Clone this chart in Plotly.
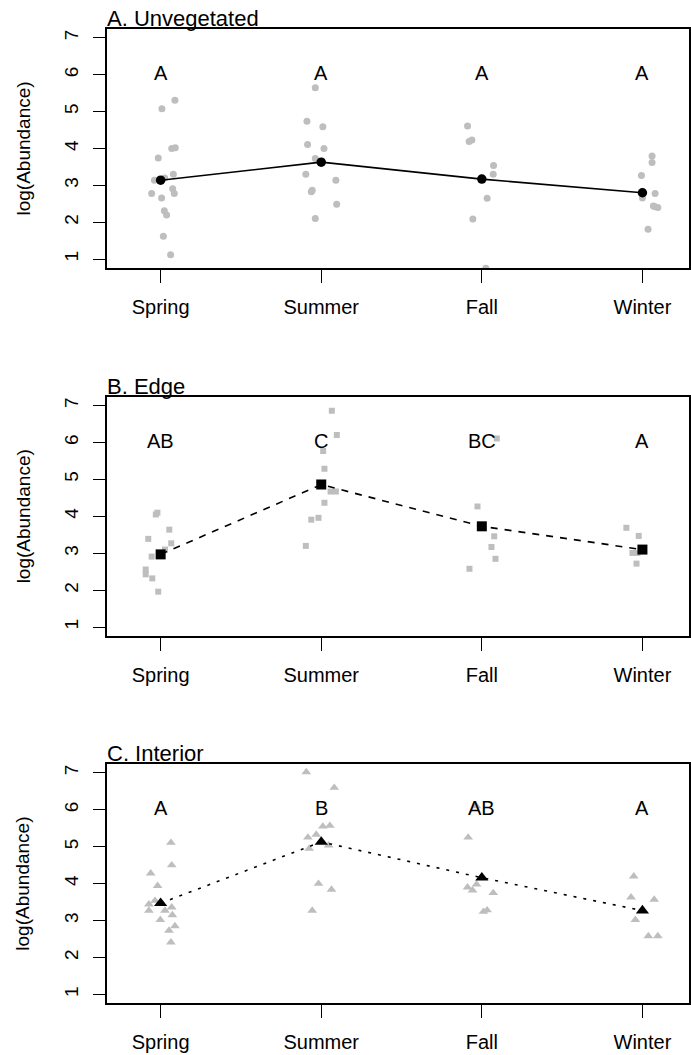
import plotly.graph_objects as go

# ---------------- data ----------------
seasons = ["Spring", "Summer", "Fall", "Winter"]
season_pos = [1, 2, 3, 4]

# A. Unvegetated (circles)
unveg_values = [
    [5.31, 5.08, 4.00, 4.02, 3.74, 3.30, 3.14, 3.20, 2.78, 2.91, 2.78, 2.66, 2.31, 2.20, 1.62, 1.12],
    [5.65, 4.74, 4.59, 4.11, 4.00, 3.73, 3.30, 3.14, 2.87, 2.83, 2.49, 2.10],
    [4.61, 4.19, 4.23, 3.54, 3.30, 2.65, 2.09, 0.75],
    [3.80, 3.62, 3.27, 2.78, 2.66, 2.44, 2.40, 2.42, 1.81],
]
unveg_jitter = [
    [0.089, 0.008, 0.069, 0.091, -0.015, 0.079, -0.039, 0.025, -0.056, 0.075, 0.085, 0.006, 0.023, 0.037, 0.017, 0.062],
    [-0.037, -0.089, 0.010, -0.085, 0.017, -0.037, -0.096, 0.091, -0.056, -0.062, 0.096, -0.037],
    [-0.089, -0.079, -0.062, 0.073, 0.071, 0.033, -0.056, 0.025],
    [0.060, 0.060, -0.006, 0.079, 0.000, 0.068, 0.096, 0.079, 0.035],
]
unveg_means = [3.14, 3.63, 3.17, 2.80]
unveg_letters = ["A", "A", "A", "A"]

# B. Edge (squares)
edge_values = [
    [4.10, 4.05, 3.64, 3.39, 3.27, 3.10, 2.91, 2.56, 2.43, 2.32, 1.96],
    [6.86, 6.20, 5.77, 5.29, 4.67, 4.67, 4.37, 3.91, 3.96, 3.20],
    [6.11, 4.27, 3.46, 3.17, 2.85, 2.58],
    [3.69, 3.47, 3.01, 3.01, 2.72],
]
edge_jitter = [
    [-0.020, -0.030, 0.054, -0.077, 0.066, 0.027, -0.056, -0.093, -0.093, -0.052, -0.015],
    [0.066, 0.097, 0.012, 0.020, 0.058, 0.091, 0.020, -0.062, -0.017, -0.096],
    [0.093, -0.027, 0.077, 0.060, 0.085, -0.077],
    [-0.100, -0.023, -0.062, -0.031, -0.037],
]
edge_means = [2.97, 4.86, 3.73, 3.10]
edge_letters = ["AB", "C", "BC", "A"]

# C. Interior (triangles)
interior_values = [
    [5.11, 4.50, 4.28, 3.94, 3.44, 3.54, 3.27, 3.27, 3.36, 3.15, 3.02, 2.85, 2.73, 2.41],
    [7.02, 6.60, 5.55, 5.57, 5.33, 5.25, 4.95, 5.04, 4.00, 3.84, 3.27],
    [6.10, 5.25, 3.98, 3.90, 3.82, 3.75, 3.24, 3.28],
    [4.20, 3.63, 3.57, 3.02, 2.58, 2.58],
]
interior_jitter = [
    [0.064, 0.069, -0.062, -0.019, -0.073, -0.035, -0.073, 0.027, 0.069, 0.073, -0.002, 0.089, 0.052, 0.064],
    [-0.093, 0.081, 0.010, 0.054, -0.031, -0.083, -0.075, 0.046, -0.017, 0.064, -0.056],
    [-0.035, -0.085, -0.033, -0.089, -0.058, 0.071, 0.010, 0.033],
    [-0.054, -0.071, 0.073, -0.044, 0.037, 0.096],
]
interior_means = [3.47, 5.13, 4.16, 3.27]
interior_letters = ["A", "B", "AB", "A"]

letter_y = 6.05
y_ticks = [1, 2, 3, 4, 5, 6, 7]

# ---------------- styling ----------------
FONT = "Liberation Sans, Arial, Helvetica, sans-serif"
GRAY = "#BEBEBE"

panels = [
    dict(title="A. Unvegetated", values=unveg_values, jitter=unveg_jitter, means=unveg_means,
         letters=unveg_letters, symbol="circle", psize=7, msize=9.5, dash="solid",
         domain=[0.74597, 0.97251]),
    dict(title="B. Edge", values=edge_values, jitter=edge_jitter, means=edge_means,
         letters=edge_letters, symbol="square", psize=6, msize=10, dash="7px,7px",
         domain=[0.39716, 0.62398]),
    dict(title="C. Interior", values=interior_values, jitter=interior_jitter, means=interior_means,
         letters=interior_letters, symbol="triangle-up", psize=8.5, msize=11.5, dash="3px,7px",
         domain=[0.04900, 0.27583]),
]

fig = go.Figure()
annotations = []
layout = dict(
    width=691, height=1055,
    margin=dict(l=107, r=2, t=0, b=0),
    paper_bgcolor="white", plot_bgcolor="white",
    showlegend=False,
    font=dict(family=FONT, size=20, color="black"),
)

for i, p in enumerate(panels):
    suffix = "" if i == 0 else str(i + 1)
    xa, ya = "x" + suffix, "y" + suffix
    xs, ys = [], []
    for s in range(4):
        for v, j in zip(p["values"][s], p["jitter"][s]):
            xs.append(season_pos[s] + j)
            ys.append(v)
    fig.add_trace(go.Scatter(
        x=xs, y=ys, mode="markers", xaxis=xa, yaxis=ya, cliponaxis=True,
        marker=dict(symbol=p["symbol"], size=p["psize"], color=GRAY, line=dict(width=0)),
        hoverinfo="skip"))
    fig.add_trace(go.Scatter(
        x=season_pos, y=p["means"], mode="lines+markers", xaxis=xa, yaxis=ya, cliponaxis=True,
        line=dict(color="black", width=1.6, dash=p["dash"]),
        marker=dict(symbol=p["symbol"], size=p["msize"], color="black", line=dict(width=0))))

    layout["xaxis" + suffix] = dict(
        domain=[0, 1], anchor=ya, range=[0.666, 4.29],
        tickvals=season_pos, ticktext=seasons,
        ticks="outside", ticklen=13, tickwidth=1.2, tickcolor="black",
        showline=True, linecolor="black", linewidth=1.6, mirror=True,
        showgrid=False, zeroline=False, ticklabelstandoff=7,
        tickfont=dict(family=FONT, size=20, color="black"))
    layout["yaxis" + suffix] = dict(
        domain=p["domain"], anchor=xa, range=[0.76, 7.24],
        tickvals=y_ticks, ticktext=[str(t) for t in y_ticks],
        ticks="outside", ticklen=12, tickwidth=1.2, tickcolor="black", tickangle=-90,
        showline=True, linecolor="black", linewidth=1.6, mirror=True,
        showgrid=False, zeroline=False, ticklabelstandoff=8,
        tickfont=dict(family=FONT, size=19, color="black"))

    # panel title
    annotations.append(dict(
        text=p["title"], xref="paper", yref="paper", x=0, y=p["domain"][1],
        xanchor="left", yanchor="bottom", showarrow=False, xshift=-2, yshift=-4,
        font=dict(family=FONT, size=22, color="black")))
    # y-axis title
    annotations.append(dict(
        text="log(Abundance)", xref="paper", yref="paper", x=-0.1443,
        y=(p["domain"][0] + p["domain"][1]) / 2, textangle=-90,
        xanchor="center", yanchor="middle", showarrow=False,
        font=dict(family=FONT, size=19, color="black")))
    # significance letters
    for s in range(4):
        annotations.append(dict(
            text=p["letters"][s], xref=xa, yref=ya, x=season_pos[s], y=letter_y,
            xanchor="center", yanchor="middle", showarrow=False,
            font=dict(family=FONT, size=20, color="black")))

layout["annotations"] = annotations
fig.update_layout(**layout)
fig.write_html("out.html")
